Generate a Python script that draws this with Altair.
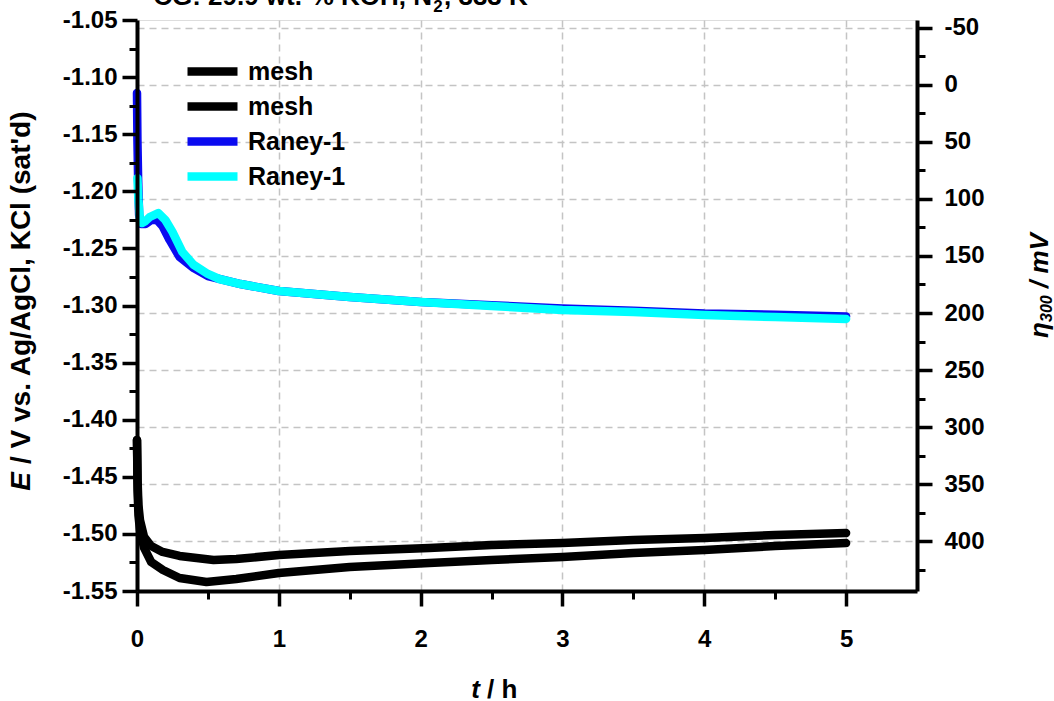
import altair as alt
import pandas as pd

FONT = "Liberation Sans"

# ---------------- data ----------------
t_mesh_a = [0, 0.004, 0.01, 0.021, 0.05, 0.1, 0.18, 0.3, 0.42, 0.54, 0.7, 1.0, 1.5, 2.06, 2.5, 3.0, 3.5, 4.0, 4.5, 5.0]
E_mesh_a = [-1.4178, -1.4528, -1.4747, -1.4878, -1.5027, -1.5106, -1.5158, -1.5193, -1.5211, -1.5229,
            -1.5220, -1.5185, -1.5150, -1.5123, -1.5097, -1.5080, -1.5053, -1.5036, -1.5009, -1.4992]

t_mesh_b = [0, 0.004, 0.01, 0.021, 0.05, 0.1, 0.183, 0.3, 0.49, 0.7, 1.0, 1.5, 2.06, 2.5, 3.0, 3.5, 4.0, 4.5, 5.0]
E_mesh_b = [-1.4178, -1.4616, -1.4834, -1.4966, -1.5123, -1.5246, -1.5316, -1.5386, -1.5421, -1.5395,
            -1.5342, -1.5290, -1.5255, -1.5229, -1.5202, -1.5167, -1.5141, -1.5106, -1.5080]

t_raney_a = [0, 0.003, 0.008, 0.015, 0.03, 0.06, 0.1, 0.14, 0.18, 0.23, 0.3, 0.4, 0.5, 0.73, 1.0, 1.5,
             2.0, 2.5, 3.0, 3.5, 4.0, 4.5, 5.0]
E_raney_a = [-1.1139, -1.1551, -1.1901, -1.2208, -1.2286, -1.2286, -1.2251, -1.2251, -1.2304, -1.2426,
             -1.2575, -1.2672, -1.2742, -1.2812, -1.2873, -1.2926, -1.2969, -1.2998, -1.3026, -1.3045,
             -1.3070, -1.3080, -1.3096]

t_raney_b = [0.003, 0.01, 0.02, 0.035, 0.06, 0.09, 0.15, 0.2, 0.25, 0.32, 0.4, 0.5, 0.58, 0.73, 1.0, 1.5,
             2.0, 2.5, 3.0, 3.5, 4.0, 4.5, 5.0]
E_raney_b = [-1.1884, -1.2076, -1.2234, -1.2278, -1.2260, -1.2225, -1.2190, -1.2251, -1.2356, -1.2532,
             -1.2645, -1.2724, -1.2768, -1.2812, -1.2873, -1.2926, -1.2969, -1.3004, -1.3039, -1.3057,
             -1.3083, -1.3101, -1.3118]

SERIES = ["mesh_a", "mesh_b", "Raney-1_a", "Raney-1_b"]
COLORS = ["#000000", "#000000", "#0a0af0", "#00ffff"]
WIDTHS = [8.5, 8.5, 6.5, 7.5]

X_DOMAIN = [0, 5.5]
X_MAJOR = [0, 1, 2, 3, 4, 5]
X_MINOR = [0.5, 1.5, 2.5, 3.5, 4.5]
X_GRID = [1, 2, 3, 4, 5]

E_DOMAIN = [-1.55, -1.05]
E_MAJOR = [-1.55, -1.50, -1.45, -1.40, -1.35, -1.30, -1.25, -1.20, -1.15, -1.10, -1.05]
E_MINOR = [-1.525, -1.475, -1.425, -1.375, -1.325, -1.275, -1.225, -1.175, -1.125, -1.075]

E_REF = -1.1066  # potential at eta = 0
ETA_DOMAIN = [round((E_REF - E_DOMAIN[1]) * 1000, 1), round((E_REF - E_DOMAIN[0]) * 1000, 1)]
ETA_MAJOR = [-50, 0, 50, 100, 150, 200, 250, 300, 350, 400]
ETA_MINOR = [-25, 25, 75, 125, 175, 225, 275, 325, 375, 425]

TITLE_A = "CG: 29.9 wt.-% KOH, N"
TITLE_SUB = "2"
TITLE_B = ", 333 K"

# ---------------- tables ----------------
rows = []
for name, ts, es in [(SERIES[0], t_mesh_a, E_mesh_a), (SERIES[1], t_mesh_b, E_mesh_b),
                     (SERIES[2], t_raney_a, E_raney_a), (SERIES[3], t_raney_b, E_raney_b)]:
    for t, e in zip(ts, es):
        rows.append({"series": name, "t": t, "E": e})
df = pd.DataFrame(rows)

dummy_xy = pd.DataFrame({"t": [X_DOMAIN[0]], "E": [E_DOMAIN[0]]})
dummy_eta = pd.DataFrame({"eta": [ETA_DOMAIN[0]]})

W, H = 780, 571
TICK_FONT = 24
MAJ, MIN = 15, 8

xscale = alt.Scale(domain=X_DOMAIN, nice=False, zero=False)
yscale = alt.Scale(domain=E_DOMAIN, nice=False, zero=False)
etascale = alt.Scale(domain=ETA_DOMAIN, nice=False, zero=False, reverse=True)

minus_fix_2f = "replace(format(datum.value, '.2f'), '\u2212', '-')"
minus_fix_d = "replace(format(datum.value, 'd'), '\u2212', '-')"
plain_int = "'' + round(datum.value)"

common = dict(title=None, grid=False, zindex=1, labelFont=FONT, labelFontSize=TICK_FONT,
              labelFontWeight="bold", labelColor="black", tickColor="black", tickWidth=3.5,
              domainColor="black", domainWidth=4)
hidden = dict(title=None, grid=False, zindex=1, labels=False, domain=False,
              tickColor="black", tickWidth=3)

lines = alt.Chart(df).mark_line(strokeCap="round", strokeJoin="round").encode(
    x=alt.X("t:Q", scale=xscale,
            axis=alt.Axis(orient="bottom", values=X_MAJOR, tickSize=MAJ, labelPadding=21,
                          labelExpr=plain_int, labelFlush=False, **common)),
    y=alt.Y("E:Q", scale=yscale,
            axis=alt.Axis(orient="left", values=E_MAJOR, tickSize=MAJ, labelPadding=5,
                          labelExpr=minus_fix_2f, labelFlush=False, **common)),
    color=alt.Color("series:N", scale=alt.Scale(domain=SERIES, range=COLORS),
                    legend=alt.Legend(orient="none", legendX=61, legendY=37, title=None,
                                      symbolType="M-2.5,0H2.5", symbolSize=400,
                                      symbolStrokeWidth=6, labelFont=FONT, labelFontSize=25,
                                      labelFontWeight="bold", labelColor="black",
                                      labelOffset=21, rowPadding=0, padding=0,
                                      labelExpr="split(datum.label, '_')[0]")),
    strokeWidth=alt.StrokeWidth("series:N", scale=alt.Scale(domain=SERIES, range=WIDTHS),
                                legend=None),
)

minor_left_bottom = alt.Chart(dummy_xy).mark_point(opacity=0).encode(
    x=alt.X("t:Q", scale=xscale, axis=alt.Axis(orient="bottom", values=X_MINOR, tickSize=MIN, **hidden)),
    y=alt.Y("E:Q", scale=yscale, axis=alt.Axis(orient="left", values=E_MINOR, tickSize=MIN, **hidden)),
)

right_axis = alt.Chart(dummy_eta).mark_point(opacity=0).encode(
    y=alt.Y("eta:Q", scale=etascale,
            axis=alt.Axis(orient="right", values=ETA_MAJOR, tickSize=MAJ, labelPadding=12,
                          labelExpr=minus_fix_d, labelFlush=False, **common)),
)

right_minor = alt.Chart(dummy_eta).mark_point(opacity=0).encode(
    y=alt.Y("eta:Q", scale=etascale,
            axis=alt.Axis(orient="right", values=ETA_MINOR, tickSize=MIN, **hidden)),
)

grid_dash = dict(title=None, labels=False, ticks=False, domain=False, grid=True, zindex=0,
                 gridColor="#c4c4c4", gridDash=[7, 5], gridWidth=1.5)
grid_layer = alt.Chart(dummy_xy.assign(eta=ETA_DOMAIN[0])).mark_point(opacity=0).encode(
    x=alt.X("t:Q", scale=xscale, axis=alt.Axis(values=X_GRID, **grid_dash)),
    y=alt.Y("eta:Q", scale=etascale, axis=alt.Axis(values=ETA_MAJOR, **grid_dash)),
)


def txt(text, x, y, size=26, style="normal", weight="bold", angle=0, align="left", baseline="middle"):
    return alt.Chart(pd.DataFrame({"label": [text]})).mark_text(
        font=FONT, fontSize=size, fontStyle=style, fontWeight=weight, angle=angle,
        align=align, baseline=baseline, color="black",
    ).encode(x=alt.value(x), y=alt.value(y), text="label:N")


texts = [
    # chart title (clipped by the top edge, as in the reference)
    txt(TITLE_A, 295, -15, size=26, align="right", baseline="alphabetic"),
    txt(TITLE_SUB, 301, -8, size=17, align="center", baseline="alphabetic"),
    txt(TITLE_B, 307, -15, size=26, align="left", baseline="alphabetic"),
    # left axis title
    txt("E", -115, 452, size=28, style="italic", angle=270, align="right"),
    txt("/ V vs. Ag/AgCl, KCl (sat'd)", -115, 444, size=28, angle=270, align="left"),
    # bottom axis title
    txt("t", 343, 670, size=26, style="italic", align="right"),
    txt("/ h", 350, 670, size=26, align="left"),
    # right axis title
    txt("\u03b7", 903, 318, size=26, style="italic", angle=270, align="left"),
    txt("300", 910, 302, size=16, style="italic", angle=270, align="left"),
    txt("/ mV", 903, 268, size=26, style="italic", angle=270, align="left"),
]

chart = alt.layer(grid_layer, lines, minor_left_bottom, right_axis, right_minor, *texts).resolve_scale(
    x="independent", y="independent"
).properties(
    width=W, height=H,
    autosize=alt.AutoSizeParams(type="none"),
    padding={"left": 137, "top": 20, "right": 137, "bottom": 110},
).configure_view(stroke="black", strokeWidth=4).configure(background="white")

chart.save("out.html", embed_options={"renderer": "svg", "actions": False})
